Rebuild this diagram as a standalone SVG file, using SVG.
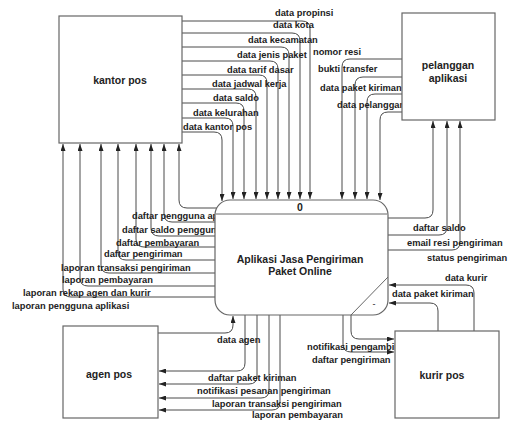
<svg xmlns="http://www.w3.org/2000/svg" width="512" height="421" viewBox="0 0 512 421">
<defs>
<marker id="ah" markerWidth="7" markerHeight="5" refX="7" refY="2.5" orient="auto" markerUnits="userSpaceOnUse">
<path d="M0,0 L7,2.5 L0,5 z" fill="#222"/>
</marker>
<style>
.c path{fill:none;stroke:#4a4a4a;stroke-width:1;marker-end:url(#ah)}
.t{font-family:"Liberation Sans",Arial,sans-serif;font-size:9.3px;font-weight:bold;fill:#222}
.box{fill:#fff;stroke:#666;stroke-width:1.2}
.nt{font-family:"Liberation Sans",Arial,sans-serif;font-size:10.5px;font-weight:bold;fill:#222;text-anchor:middle}
</style>
</defs>
<rect width="512" height="421" fill="#fff"/>
<g id="connectors" class="c">
<path d="M182,21 H302 Q310,21 310,29 V199"/>
<path d="M182,33 H292 Q300,33 300,41 V199"/>
<path d="M182,47 H281 Q289,47 289,55 V199"/>
<path d="M182,61 H270 Q278,61 278,69 V199"/>
<path d="M182,75 H259 Q267,75 267,83 V199"/>
<path d="M182,89 H248 Q256,89 256,97 V199"/>
<path d="M182,103 H236 Q244,103 244,111 V199"/>
<path d="M182,118 H225 Q233,118 233,126 V199"/>
<path d="M182,132 H214 Q222,132 222,140 V201"/>
<path d="M402,59 H350 Q342,59 342,67 V199"/>
<path d="M402,77 H363 Q355,77 355,85 V199"/>
<path d="M402,94 H375 Q367,94 367,102 V199"/>
<path d="M402,112 H388 Q380,112 380,120 V200"/>
<path d="M217,208 H187 Q179,208 179,200 V144"/>
<path d="M215,222 H172 Q164,222 164,214 V144"/>
<path d="M215,236 H159 Q151,236 151,228 V144"/>
<path d="M215,247 H144 Q136,247 136,239 V144"/>
<path d="M215,260 H126 Q118,260 118,252 V144"/>
<path d="M215,273 H109 Q101,273 101,265 V144"/>
<path d="M215,286 H88 Q80,286 80,278 V144"/>
<path d="M215,297 H71 Q63,297 63,289 V144"/>
<path d="M388,218 H425 Q433,218 433,210 V121"/>
<path d="M388,235 H439 Q447,235 447,227 V121"/>
<path d="M388,250 H452 Q460,250 460,242 V121"/>
<path d="M474,331 V293 Q474,285 466,285 H389"/>
<path d="M438,331 V311 Q438,303 430,303 H389"/>
<path d="M351,315 V331 Q351,339 359,339 H394"/>
<path d="M343,315 V344 Q343,352 351,352 H394"/>
<path d="M245,315 V363 Q245,371 237,371 H159"/>
<path d="M257,315 V376 Q257,384 249,384 H159"/>
<path d="M269,315 V390 Q269,398 261,398 H159"/>
<path d="M280,315 V402 Q280,410 272,410 H159"/>
<path d="M158,333 H225 Q233,333 233,325 V316"/>
<text class="t" x="275" y="16.3">data propinsi</text>
<text class="t" x="273" y="28.3">data kota</text>
<text class="t" x="248" y="43.3">data kecamatan</text>
<text class="t" x="237" y="58.3">data jenis paket</text>
<text class="t" x="227" y="73.3">data tarif dasar</text>
<text class="t" x="212" y="87.3">data jadwal kerja</text>
<text class="t" x="213" y="101.3">data saldo</text>
<text class="t" x="193" y="116.3">data kelurahan</text>
<text class="t" x="183" y="130.3">data kantor pos</text>
<text class="t" x="313" y="55.3">nomor resi</text>
<text class="t" x="318" y="72.3">bukti transfer</text>
<text class="t" x="320" y="91.3">data paket kiriman</text>
<text class="t" x="337" y="108.3">data pelanggan</text>
<text class="t" x="132" y="219.3">daftar pengguna aplikasi</text>
<text class="t" x="122" y="233.3">daftar saldo pengguna</text>
<text class="t" x="116" y="246.3">daftar pembayaran</text>
<text class="t" x="104" y="257.3">daftar pengiriman</text>
<text class="t" x="61" y="271.3">laporan transaksi pengiriman</text>
<text class="t" x="62" y="283.3">laporan pembayaran</text>
<text class="t" x="23" y="296.3">laporan rekap agen dan kurir</text>
<text class="t" x="12" y="309.3">laporan pengguna aplikasi</text>
<text class="t" x="413" y="231.3">daftar saldo</text>
<text class="t" x="407" y="246.3">email resi pengiriman</text>
<text class="t" x="427" y="261.3">status pengiriman</text>
<text class="t" x="445" y="281.3">data kurir</text>
<text class="t" x="392" y="297.3">data paket kiriman</text>
<text class="t" x="217" y="343.3">data agen</text>
<text class="t" x="307" y="350.3">notifikasi pengambilan</text>
<text class="t" x="312" y="363.3">daftar pengiriman</text>
<text class="t" x="208" y="381.3">daftar paket kiriman</text>
<text class="t" x="197" y="394.3">notifikasi pesanan pengiriman</text>
<text class="t" x="212" y="407.3">laporan transaksi pengiriman</text>
<text class="t" x="252" y="418">laporan pembayaran</text>
</g>
<g id="kantor-pos">
<rect class="box" x="59" y="16" width="123" height="127"/>
<text class="nt" x="120" y="84">kantor pos</text>
</g>
<g id="pelanggan-aplikasi">
<rect class="box" x="402" y="13" width="93" height="107"/>
<text class="nt" x="448" y="69">pelanggan</text>
<text class="nt" x="448" y="82">aplikasi</text>
</g>
<g id="process">
<rect class="box" x="215" y="200" width="173" height="115" rx="15" ry="15"/>
<line x1="216" y1="214" x2="387" y2="214" stroke="#666" stroke-width="1"/>
<line x1="388" y1="277" x2="351" y2="315" stroke="#666" stroke-width="1"/>
<text class="nt" x="300" y="211">0</text>
<text class="nt" x="300" y="263">Aplikasi Jasa Pengiriman</text>
<text class="nt" x="300" y="275">Paket Online</text>
<text class="nt" x="374" y="307" style="font-weight:normal;font-size:9px">-</text>
</g>
<g id="agen-pos">
<rect class="box" x="63" y="326" width="95" height="92"/>
<text class="nt" x="109" y="378">agen pos</text>
</g>
<g id="kurir-pos">
<rect class="box" x="395" y="331" width="104" height="87"/>
<text class="nt" x="442" y="379">kurir pos</text>
</g>
</svg>
